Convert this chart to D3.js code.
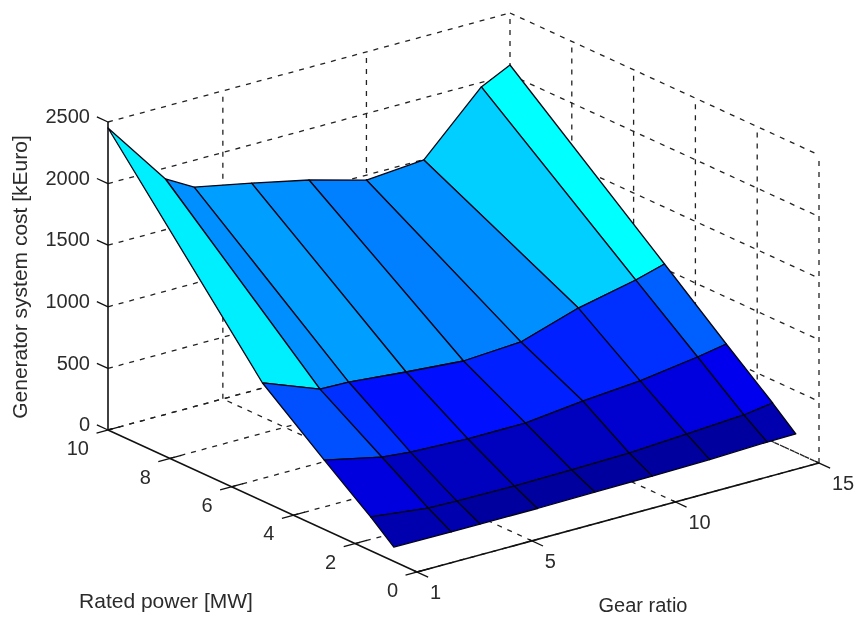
<!DOCTYPE html>
<html>
<head>
<meta charset="utf-8">
<script src="https://cdn.jsdelivr.net/npm/d3@7"></script>
<style>
  html, body { margin: 0; padding: 0; background: #fff; }
  svg { display: block; filter: blur(0.55px); }
  text { font-family: "Liberation Sans", Arial, sans-serif; fill: #2b2b2b; }
</style>
</head>
<body>
<div id="chart"></div>
<script>
const width = 858;
const height = 617;

// Surface grid
const gearRatios = [1, 3, 4, 6, 8, 10, 12, 14, 15];
const ratedPowers = [0.75, 1.5, 3, 5, 10];

// cost in kEuro, one array per rated power
const cost075 = [116, 112, 113, 113, 120, 123, 131, 147, 149];
const cost150 = [274, 220, 213, 209, 213, 224, 252, 280, 314];
const cost300 = [563, 461, 438, 418, 421, 473, 510, 578, 620];
const cost500 = [958, 782, 776, 731, 694, 722, 871, 972, 1039];
const cost1000 = [2451, 1911, 1782, 1688, 1587, 1460, 1497, 1963, 2078];
const costs = [cost075, cost150, cost300, cost500, cost1000];

// colormap index of each face (jet, 64 steps), one array per row of faces
const shade075 = [3, 3, 2, 2, 2, 2, 2, 3];
const shade150 = [6, 4, 4, 4, 4, 5, 6, 7];
const shade300 = [13, 11, 9, 9, 10, 10, 11, 14];
const shade500 = [23, 17, 18, 17, 16, 17, 21, 24];
const shades = [shade075, shade150, shade300, shade500];

const gearTicks = [1, 5, 10, 15];
const powerTicks = [0, 2, 4, 6, 8, 10];
const costTicks = [0, 500, 1000, 1500, 2000, 2500];

// Projection: each axis adds its own pixel offset to the origin corner
const origin = { x: 417, y: 572 };
const gearX = d3.scaleLinear().domain([1, 15]).range([0, 402]);
const gearY = d3.scaleLinear().domain([1, 15]).range([0, -109]);
const powerX = d3.scaleLinear().domain([0, 10]).range([0, -309]);
const powerY = d3.scaleLinear().domain([0, 10]).range([0, -142]);
const costY = d3.scaleLinear().domain([0, 2500]).range([0, -308]);

function project(g, p, c) {
  return [
    origin.x + gearX(g) + powerX(p),
    origin.y + gearY(g) + powerY(p) + costY(c)
  ];
}

const colormap = d3.scaleLinear()
  .domain([1, 8, 24])
  .range(['#00008f', '#0000ff', '#00ffff']);

const line = d3.line();

const svg = d3.select('#chart')
  .append('svg')
  .attr('width', width)
  .attr('height', height);

// Grid lines on the floor and the two back walls
const gMin = 1, gMax = 15, pMin = 0, pMax = 10, cMin = 0, cMax = 2500;
const gridLines = [];
gearTicks.slice(1).forEach(function (g) {
  gridLines.push([project(g, pMin, cMin), project(g, pMax, cMin)]);
  gridLines.push([project(g, pMax, cMin), project(g, pMax, cMax)]);
});
powerTicks.forEach(function (p) {
  gridLines.push([project(gMin, p, cMin), project(gMax, p, cMin)]);
  if (p < pMax) {
    gridLines.push([project(gMax, p, cMin), project(gMax, p, cMax)]);
  }
});
costTicks.forEach(function (c) {
  gridLines.push([project(gMin, pMax, c), project(gMax, pMax, c)]);
  gridLines.push([project(gMax, pMax, c), project(gMax, pMin, c)]);
});

svg.append('g')
  .selectAll('path')
  .data(gridLines)
  .enter()
  .append('path')
  .attr('d', line)
  .attr('fill', 'none')
  .attr('stroke', '#222')
  .attr('stroke-width', 1.3)
  .attr('stroke-dasharray', '5,6');

// Solid axes
const axes = [
  [project(gMin, pMax, cMin), project(gMin, pMax, cMax)],
  [project(gMin, pMax, cMin), project(gMin, pMin, cMin)],
  [project(gMin, pMin, cMin), project(gMax, pMin, cMin)]
];
svg.append('g')
  .selectAll('path')
  .data(axes)
  .enter()
  .append('path')
  .attr('d', line)
  .attr('fill', 'none')
  .attr('stroke', '#111')
  .attr('stroke-width', 1.6);

// Tick marks, pointing out of the box along the other axes
const tickMarks = [];
costTicks.forEach(function (c) {
  tickMarks.push([project(gMin, pMax, c), project(gMin, pMax + 0.36, c)]);
});
powerTicks.forEach(function (p) {
  tickMarks.push([project(gMin + 0.4, p, cMin), project(gMin - 0.4, p, cMin)]);
});
gearTicks.forEach(function (g) {
  tickMarks.push([project(g, pMin + 0.1, cMin), project(g, pMin - 0.36, cMin)]);
});
svg.append('g')
  .selectAll('path')
  .data(tickMarks)
  .enter()
  .append('path')
  .attr('d', line)
  .attr('fill', 'none')
  .attr('stroke', '#111')
  .attr('stroke-width', 1.3);

// Faces of the surface, drawn back to front
const faces = [];
d3.range(ratedPowers.length - 2, -1, -1).forEach(function (i) {
  d3.range(gearRatios.length - 2, -1, -1).forEach(function (j) {
    faces.push({
      shade: shades[i][j],
      corners: [
        project(gearRatios[j], ratedPowers[i], costs[i][j]),
        project(gearRatios[j + 1], ratedPowers[i], costs[i][j + 1]),
        project(gearRatios[j + 1], ratedPowers[i + 1], costs[i + 1][j + 1]),
        project(gearRatios[j], ratedPowers[i + 1], costs[i + 1][j])
      ]
    });
  });
});

svg.append('g')
  .selectAll('path')
  .data(faces)
  .enter()
  .append('path')
  .attr('d', function (d) { return line(d.corners) + 'Z'; })
  .attr('fill', function (d) { return colormap(d.shade); })
  .attr('stroke', '#050514')
  .attr('stroke-width', 1.3)
  .attr('stroke-linejoin', 'round');

// Tick labels
const labels = svg.append('g').attr('font-size', '20px');

labels.selectAll('.cost-label')
  .data(costTicks)
  .enter()
  .append('text')
  .attr('class', 'cost-label')
  .text(function (d) { return d; })
  .attr('x', function (d) { return project(gMin, pMax, d)[0] - 18; })
  .attr('y', function (d) { return project(gMin, pMax, d)[1] - 6; })
  .attr('dy', '0.36em')
  .attr('text-anchor', 'end');

labels.selectAll('.power-label')
  .data(powerTicks)
  .enter()
  .append('text')
  .attr('class', 'power-label')
  .text(function (d) { return d; })
  .attr('x', function (d) { return project(gMin, d, cMin)[0] - 19; })
  .attr('y', function (d) { return project(gMin, d, cMin)[1] + 18; })
  .attr('dy', '0.36em')
  .attr('text-anchor', 'end');

labels.selectAll('.gear-label')
  .data(gearTicks)
  .enter()
  .append('text')
  .attr('class', 'gear-label')
  .text(function (d) { return d; })
  .attr('x', function (d) { return project(d, pMin, cMin)[0] + 13; })
  .attr('y', function (d) { return project(d, pMin, cMin)[1] + 20; })
  .attr('dy', '0.36em')
  .attr('text-anchor', 'start');

// Axis titles
const titles = svg.append('g').attr('font-size', '21px');

titles.append('text')
  .text('Rated power [MW]')
  .attr('x', 166)
  .attr('y', 600)
  .attr('dy', '0.36em')
  .attr('text-anchor', 'middle');

titles.append('text')
  .text('Gear ratio')
  .attr('x', 643)
  .attr('y', 612)
  .attr('font-size', '20px')
  .attr('text-anchor', 'middle');

titles.append('text')
  .text('Generator system cost [kEuro]')
  .attr('transform', 'translate(19,277) rotate(-90)')
  .attr('dy', '0.36em')
  .attr('text-anchor', 'middle');
</script>
</body>
</html>
